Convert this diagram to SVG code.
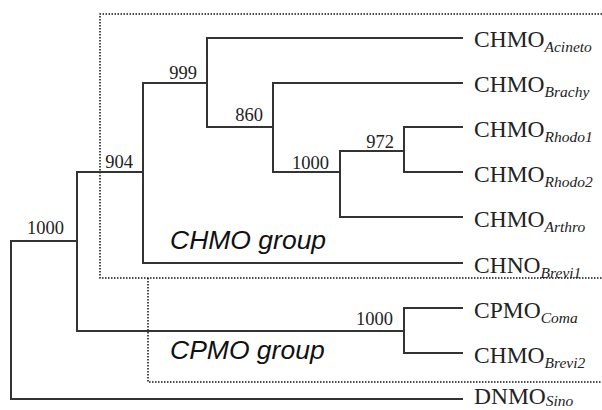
<svg xmlns="http://www.w3.org/2000/svg" width="602" height="410" viewBox="0 0 602 410">
<style>
.br{fill:none;stroke:#333;stroke-width:2;stroke-linecap:square}
.box{fill:none;stroke:#111;stroke-width:1.5;stroke-dasharray:1.5 1.5}
.lf{font-family:"Liberation Serif","Times New Roman",serif;font-size:23.5px;fill:#222}
.sub{font-style:italic;font-size:15.5px}
.bs{font-family:"Liberation Serif","Times New Roman",serif;font-size:18.5px;fill:#222;text-anchor:end}
.grp{font-family:"Liberation Sans",Arial,sans-serif;font-style:italic;font-size:26.5px;fill:#111}
</style>
<rect width="602" height="410" fill="#fff"/>
<g id="groups">
<path class="box" d="M602 14H100V278H602"/>
<path class="box" d="M148 278V382H602"/>
<text class="grp" x="170" y="249">CHMO group</text>
<text class="grp" x="170" y="359">CPMO group</text>
</g>
<g id="connectors">
<path class="br" d="M77 241H11V399H462"/>
<path class="br" d="M143 172H77V331H404"/>
<path class="br" d="M207 83H143V263H462"/>
<path class="br" d="M462 38H207V127H273"/>
<path class="br" d="M462 83H273V172H340"/>
<path class="br" d="M404 151H340V217H462"/>
<path class="br" d="M462 127H404V172H462"/>
<path class="br" d="M462 308H404V353H462"/>
</g>
<g id="support">
<text class="bs" x="64" y="234">1000</text>
<text class="bs" x="133" y="168">904</text>
<text class="bs" x="197" y="79">999</text>
<text class="bs" x="263" y="121">860</text>
<text class="bs" x="329" y="169">1000</text>
<text class="bs" x="394" y="148">972</text>
<text class="bs" x="393" y="325">1000</text>
</g>
<g id="leaf-acineto"><text class="lf" x="474" y="47">CHMO<tspan class="sub" dy="5">Acineto</tspan></text></g>
<g id="leaf-brachy"><text class="lf" x="474" y="92">CHMO<tspan class="sub" dy="5">Brachy</tspan></text></g>
<g id="leaf-rhodo1"><text class="lf" x="474" y="137">CHMO<tspan class="sub" dy="5">Rhodo1</tspan></text></g>
<g id="leaf-rhodo2"><text class="lf" x="474" y="182">CHMO<tspan class="sub" dy="5">Rhodo2</tspan></text></g>
<g id="leaf-arthro"><text class="lf" x="474" y="227">CHMO<tspan class="sub" dy="5">Arthro</tspan></text></g>
<g id="leaf-brevi1"><text class="lf" x="474" y="273">CHNO<tspan class="sub" dy="5">Brevi1</tspan></text></g>
<g id="leaf-coma"><text class="lf" x="474" y="318">CPMO<tspan class="sub" dy="5">Coma</tspan></text></g>
<g id="leaf-brevi2"><text class="lf" x="474" y="363">CHMO<tspan class="sub" dy="5">Brevi2</tspan></text></g>
<g id="leaf-sino"><text class="lf" x="474" y="404">DNMO<tspan class="sub" dy="2">Sino</tspan></text></g>
</svg>
